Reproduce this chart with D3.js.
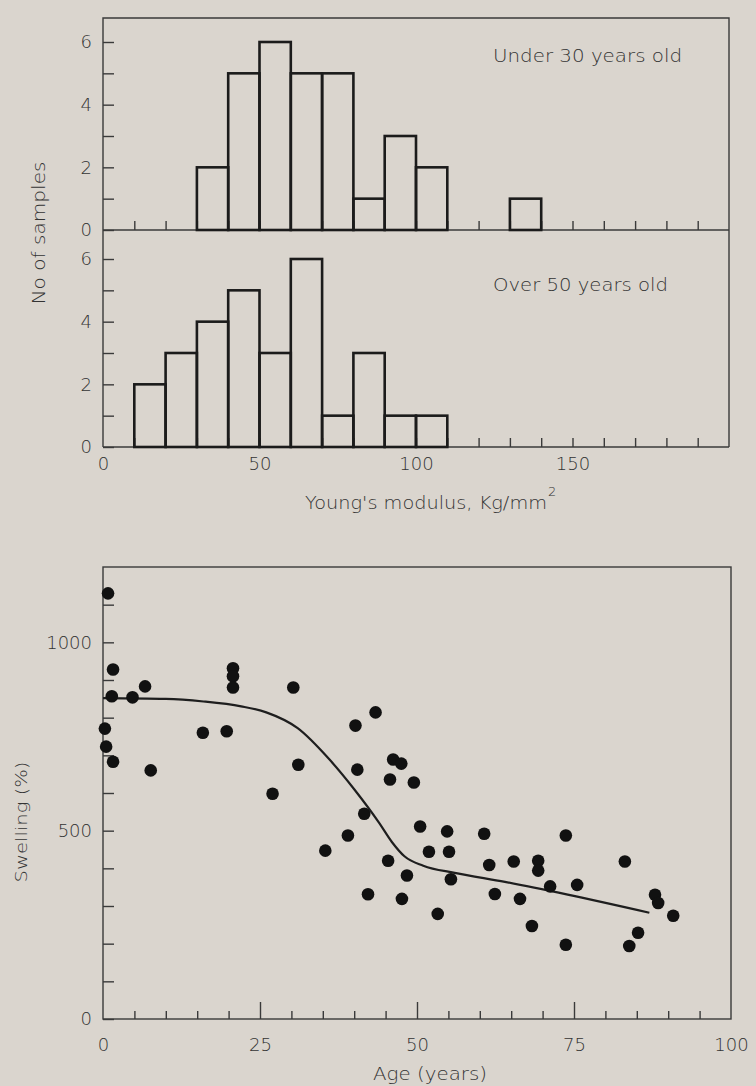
<!DOCTYPE html>
<html>
<head>
<meta charset="utf-8">
<script src="https://cdn.jsdelivr.net/npm/d3@7"></script>
<style>
  body { margin: 0; background: #dad5ce; }
  svg text { font-family: "DejaVu Sans", sans-serif; fill: #333; font-weight: 300; }
</style>
</head>
<body>
<svg id="fig" width="756" height="1086"></svg>
<script>
// Young's modulus histograms: left edge of each 10 Kg/mm² bin and the sample count in it
const binWidth = 10;
const binsUnder30 = [30, 40, 50, 60, 70, 80, 90, 100, 130];
const countsUnder30 = [2, 5, 6, 5, 5, 1, 3, 2, 1];
const binsOver50 = [10, 20, 30, 40, 50, 60, 70, 80, 90, 100];
const countsOver50 = [2, 3, 4, 5, 3, 6, 1, 3, 1, 1];
const countTickLabels = [0, 2, 4, 6];
const modulusTickLabels = [0, 50, 100, 150];

// Swelling against age, one value per sample
const ageYears = [0.8, 1.6, 1.4, 4.7, 6.7, 0.3, 0.5, 1.6, 7.6, 15.9, 19.7, 20.7, 20.7, 20.7,
  27, 30.3, 31.1, 40.2, 40.5, 43.4, 41.6, 35.4, 39, 42.2, 46.2, 47.5, 45.7, 49.5,
  50.5, 54.8, 60.7, 73.7, 51.9, 55.1, 45.4, 61.5, 65.4, 69.3, 69.3, 83.1, 48.4, 55.4,
  71.2, 75.5, 47.6, 62.4, 66.4, 87.9, 88.4, 90.8, 53.3, 68.3, 85.2, 73.7, 83.8];
const swellingPct = [1130, 928, 857, 854, 883, 771, 723, 683, 660, 760, 764, 931, 910, 880,
  598, 880, 675, 779, 662, 814, 545, 447, 487, 331, 689, 678, 636, 628,
  511, 498, 492, 487, 444, 444, 420, 409, 418, 420, 394, 418, 381, 371,
  352, 356, 319, 332, 319, 330, 308, 274, 279, 247, 229, 197, 194];
// Fitted trend through the samples
const trendAge = [0, 10, 16, 22, 26, 31, 36, 40, 44, 46, 48, 51, 56, 64, 74, 87];
const trendSwelling = [852, 850, 843, 830, 814, 772, 690, 610, 520, 470, 432, 407, 388, 364, 330, 282];
const ageTickLabels = [0, 25, 50, 75, 100];
const swellingTickLabels = [0, 500, 1000];

const svg = d3.select("#fig");
const axisColor = "#3a3a3a";
const barColor = "#1b1b1b";

// ---------- Histograms ----------
const xMod = d3.scaleLinear().domain([0, 200]).range([103, 729]);
const yUpper = d3.scaleLinear().domain([0, 6]).range([230, 42]);
const yLower = d3.scaleLinear().domain([0, 6]).range([447, 259]);
const histTop = 18;

function drawPanel(yScale, bins, counts, label, labelY, labelWidth) {
  const g = svg.append("g");
  // count axis with inward ticks
  const ya = g.append("g")
    .attr("transform", `translate(${xMod(0)},0)`)
    .call(d3.axisLeft(yScale).tickValues(d3.range(0, 7)).tickSizeInner(-11).tickSizeOuter(0)
      .tickPadding(11).tickFormat(d => countTickLabels.includes(d) ? d : ""));
  ya.select(".domain").remove();
  ya.selectAll("line").attr("stroke", axisColor).attr("stroke-width", 1.4);
  ya.selectAll("text").attr("font-size", 18).attr("font-family", null);

  // modulus ticks along the baseline
  const xa = g.append("g")
    .attr("transform", `translate(0,${yScale(0)})`)
    .call(d3.axisBottom(xMod).tickValues(d3.range(10, 200, 10)).tickSizeInner(-9).tickSizeOuter(0).tickFormat(""));
  xa.select(".domain").remove();
  xa.selectAll("line").attr("stroke", axisColor).attr("stroke-width", 1.4);

  g.append("line")
    .attr("x1", xMod(0)).attr("x2", xMod(200))
    .attr("y1", yScale(0)).attr("y2", yScale(0))
    .attr("stroke", axisColor).attr("stroke-width", 1.6);

  g.selectAll("rect.bar")
    .data(bins.map((b, i) => ({ b, c: counts[i] })))
    .join("rect")
    .attr("class", "bar")
    .attr("x", d => xMod(d.b))
    .attr("width", d => xMod(d.b + binWidth) - xMod(d.b))
    .attr("y", d => yScale(d.c))
    .attr("height", d => yScale(0) - yScale(d.c))
    .attr("fill", "none")
    .attr("stroke", barColor)
    .attr("stroke-width", 2.6);

  g.append("text")
    .attr("x", 493).attr("y", labelY)
    .attr("font-size", 17)
    .attr("textLength", labelWidth)
    .attr("lengthAdjust", "spacingAndGlyphs")
    .text(label);
}

// frame of the stacked histograms
svg.append("path")
  .attr("d", `M${xMod(0)},${yLower(0)}V${histTop}H${xMod(200)}V${yLower(0)}`)
  .attr("fill", "none").attr("stroke", axisColor).attr("stroke-width", 1.4);

drawPanel(yUpper, binsUnder30, countsUnder30, "Under 30 years old", 62, 189);
drawPanel(yLower, binsOver50, countsOver50, "Over 50 years old", 291, 175);

const modLabels = svg.append("g")
  .attr("transform", `translate(0,${yLower(0)})`)
  .call(d3.axisBottom(xMod).tickValues(modulusTickLabels).tickSize(0).tickPadding(10));
modLabels.select(".domain").remove();
modLabels.selectAll("text").attr("font-size", 18).attr("font-family", null);

svg.append("text")
  .attr("transform", "translate(45,233) rotate(-90)")
  .attr("text-anchor", "middle")
  .attr("font-size", 17)
  .attr("textLength", 143)
  .attr("lengthAdjust", "spacingAndGlyphs")
  .text("No of samples");

const modTitle = svg.append("text")
  .attr("x", 305).attr("y", 509)
  .attr("font-size", 17);
modTitle.append("tspan")
  .attr("textLength", 242)
  .attr("lengthAdjust", "spacingAndGlyphs")
  .text("Young's modulus, Kg/mm");
modTitle.append("tspan").attr("dx", 1).attr("dy", -13).attr("font-size", 13).text("2");

// ---------- Swelling vs age ----------
const xAge = d3.scaleLinear().domain([0, 100]).range([103, 731]);
const ySw = d3.scaleLinear().domain([0, 1200]).range([1019, 567]);

svg.append("rect")
  .attr("x", xAge(0)).attr("y", ySw(1200))
  .attr("width", xAge(100) - xAge(0)).attr("height", ySw(0) - ySw(1200))
  .attr("fill", "none").attr("stroke", axisColor).attr("stroke-width", 1.4);

const swAxis = svg.append("g")
  .attr("transform", `translate(${xAge(0)},0)`)
  .call(d3.axisLeft(ySw).tickValues(d3.range(0, 1200, 100)).tickSizeInner(-11).tickSizeOuter(0)
    .tickPadding(11).tickFormat(d => swellingTickLabels.includes(d) ? d : ""));
swAxis.select(".domain").remove();
swAxis.selectAll("line").attr("stroke", axisColor).attr("stroke-width", 1.4);
swAxis.selectAll("text").attr("font-size", 18).attr("font-family", null);

const ageAxis = svg.append("g")
  .attr("transform", `translate(0,${ySw(0)})`)
  .call(d3.axisBottom(xAge).tickValues(d3.range(0, 101, 5)).tickSizeOuter(0).tickPadding(13)
    .tickFormat(d => ageTickLabels.includes(d) ? d : ""));
ageAxis.select(".domain").remove();
ageAxis.selectAll(".tick line")
  .attr("y2", d => (d === 0 || d === 100) ? 0 : (d % 25 === 0 ? -17 : -8))
  .attr("stroke", axisColor).attr("stroke-width", 1.4);
ageAxis.selectAll("text").attr("font-size", 18).attr("font-family", null);

svg.append("path")
  .datum(trendAge.map((a, i) => [a, trendSwelling[i]]))
  .attr("d", d3.line().x(d => xAge(d[0])).y(d => ySw(d[1])).curve(d3.curveMonotoneX))
  .attr("fill", "none").attr("stroke", "#1e1e1e").attr("stroke-width", 2.2);

svg.append("g").selectAll("circle")
  .data(ageYears.map((a, i) => [a, swellingPct[i]]))
  .join("circle")
  .attr("cx", d => xAge(d[0]))
  .attr("cy", d => ySw(d[1]))
  .attr("r", 6.3)
  .attr("fill", "#111");

svg.append("text")
  .attr("transform", "translate(27,822) rotate(-90)")
  .attr("text-anchor", "middle")
  .attr("font-size", 16)
  .attr("textLength", 121)
  .attr("lengthAdjust", "spacingAndGlyphs")
  .text("Swelling (%)");

svg.append("text")
  .attr("x", 373).attr("y", 1080)
  .attr("font-size", 17)
  .attr("textLength", 114)
  .attr("lengthAdjust", "spacingAndGlyphs")
  .text("Age (years)");
</script>
</body>
</html>
